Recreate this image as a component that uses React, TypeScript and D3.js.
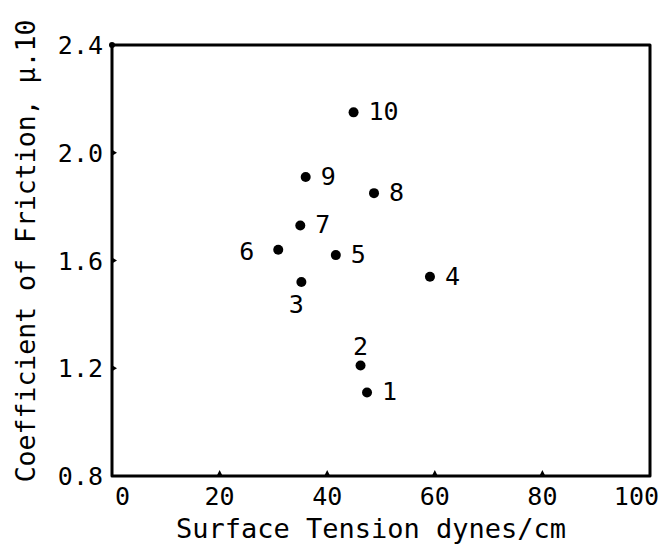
import React from "react";
import * as d3 from "d3";

const pointIds = ["1", "2", "3", "4", "5", "6", "7", "8", "9", "10"];
const surfaceTension = [47.4, 46.2, 35.2, 59.1, 41.6, 30.9, 35.0, 48.7, 36.0, 44.9];
const friction = [1.11, 1.21, 1.52, 1.54, 1.62, 1.64, 1.73, 1.85, 1.91, 2.15];
const labelPlacement = ["right", "above", "below", "right", "right", "left", "right", "right", "right", "right"];

const xTicks = [0, 20, 40, 60, 80, 100];
const xTickLabels = ["0", "20", "40", "60", "80", "100"];
const yTicks = [0.8, 1.2, 1.6, 2.0, 2.4];
const yTickLabels = ["0.8", "1.2", "1.6", "2.0", "2.4"];

const W = 661;
const H = 544;
const margin = { left: 112, right: 11, top: 45, bottom: 68 };

export default function App() {
  const x = d3.scaleLinear().domain([0, 100]).range([margin.left, W - margin.right]);
  const y = d3.scaleLinear().domain([0.8, 2.4]).range([H - margin.bottom, margin.top]);
  const font = "'DejaVu Sans Mono', monospace";
  const x0 = x(0), x1 = x(100), y0 = y(0.8), y1 = y(2.4);

  const labelProps = (p: string) => {
    switch (p) {
      case "left":
        return { dx: -24, dy: 10, anchor: "end" };
      case "above":
        return { dx: 0, dy: -11, anchor: "middle" };
      case "below":
        return { dx: -5, dy: 31, anchor: "middle" };
      default:
        return { dx: 15, dy: 8, anchor: "start" };
    }
  };

  return (
    <svg width={W} height={H} style={{ position: "absolute", left: 0, top: 0, background: "#fff" }}>
      <rect x={0} y={0} width={W} height={H} fill="#fff" />
      {/* frame */}
      <path
        d={`M${x0},${y1} L${x1},${y1} L${x1},${y0} L${x0},${y0} Z`}
        fill="none"
        stroke="#000"
        strokeWidth={3}
        strokeLinejoin="round"
      />
      <circle cx={x0} cy={y1} r={3} fill="#000" />
      {/* x ticks */}
      {xTicks.map((t, i) => (
        <g key={"xt" + i}>
          {i > 0 && i < xTicks.length - 1 && (
            <path d={`M${x(t) - 3},${y0} L${x(t)},${y0 - 6} L${x(t) + 3},${y0} Z`} fill="#000" />
          )}
          <text
            x={x(t) + (i === 0 ? 3 : i === xTicks.length - 1 ? 9 : 0)}
            y={y0 + 29}
            fontFamily={font}
            fontSize={25}
            textAnchor={i === 0 ? "start" : i === xTicks.length - 1 ? "end" : "middle"}
            fill="#000"
          >
            {xTickLabels[i]}
          </text>
        </g>
      ))}
      {/* y ticks */}
      {yTicks.map((t, i) => (
        <g key={"yt" + i}>
          {i > 0 && i < yTicks.length - 1 && (
            <path d={`M${x0},${y(t) - 3} L${x0 + 5},${y(t)} L${x0},${y(t) + 3} Z`} fill="#000" />
          )}
          <text
            x={x0 - 9}
            y={y(t) + 9}
            fontFamily={font}
            fontSize={25}
            textAnchor="end"
            fill="#000"
          >
            {yTickLabels[i]}
          </text>
        </g>
      ))}
      {/* axis titles */}
      <text
        x={(x0 + x1) / 2 - 10}
        y={y0 + 62}
        fontFamily={font}
        fontSize={27}
        textAnchor="middle"
        fill="#000"
      >
        Surface Tension dynes/cm
      </text>
      <text
        transform={`translate(35, 251) rotate(-90)`}
        fontFamily={font}
        fontSize={26.5}
        textAnchor="middle"
        fill="#000"
      >
        Coefficient of Friction, μ.10
      </text>
      {/* points */}
      {pointIds.map((id, i) => {
        const lp = labelProps(labelPlacement[i]);
        const cx = x(surfaceTension[i]);
        const cy = y(friction[i]);
        return (
          <g key={"p" + id}>
            <circle cx={cx} cy={cy} r={5} fill="#000" />
            <text
              x={cx + lp.dx}
              y={cy + lp.dy}
              fontFamily={font}
              fontSize={25}
              textAnchor={lp.anchor}
              fill="#000"
            >
              {id}
            </text>
          </g>
        );
      })}
    </svg>
  );
}
